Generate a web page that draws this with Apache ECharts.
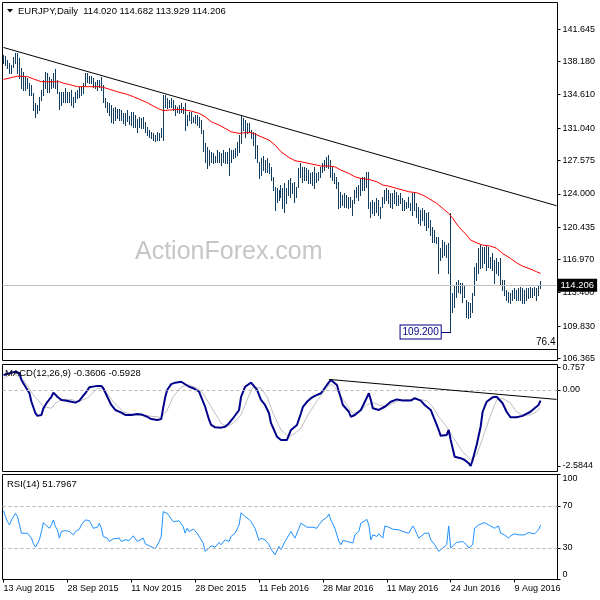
<!DOCTYPE html>
<html><head><meta charset="utf-8">
<script src="https://cdn.jsdelivr.net/npm/echarts@6/dist/echarts.min.js"></script>
<style>html,body{margin:0;padding:0;background:#fff}#c{width:600px;height:600px}</style>
</head><body><div id="c"></div>
<script>
// ---- data ----
const dateTicks = ['13 Aug 2015','28 Sep 2015','11 Nov 2015','28 Dec 2015','11 Feb 2016','28 Mar 2016','11 May 2016','24 Jun 2016','9 Aug 2016'];
const priceTicks = [106.365,109.830,113.400,116.970,120.435,124.000,127.575,131.040,134.610,138.180,141.645];
const macdTicks = [0.757, 0, -2.5844];
const macdTickText = ['0.757','0.00','-2.5844'];
const rsiTicks = [0,30,70,100];

const barHigh = [138.86,138.75,138.33,137.97,137.79,138.68,139.04,139.04,138.50,137.43,
137.08,136.54,136.36,135.83,135.65,134.75,133.68,133.50,134.40,135.11,
136.18,137.08,136.97,136.54,136.25,136.90,137.33,136.18,134.93,134.93,
134.93,135.29,134.93,134.93,135.11,134.40,134.93,135.11,135.47,135.54,
135.83,136.97,136.97,136.61,136.61,136.36,136.00,136.18,136.18,136.54,
135.65,134.22,133.86,133.68,133.50,133.15,133.33,133.04,133.04,132.97,
132.68,132.68,132.97,132.33,132.79,132.79,132.43,131.97,132.25,132.08,
132.25,131.72,131.18,130.83,130.65,130.47,130.29,130.65,130.47,131.00,
134.58,134.58,134.22,134.04,134.22,134.04,133.50,133.33,133.50,133.68,
133.33,133.68,132.43,132.79,132.79,132.25,132.43,132.43,132.25,131.90,
130.82,129.40,129.04,128.68,128.50,128.32,128.04,128.68,128.50,128.32,
128.68,128.50,128.50,128.86,128.68,128.68,128.86,129.57,130.29,132.43,
132.07,131.90,131.61,131.54,130.82,130.64,130.47,129.22,127.43,127.79,
128.04,127.61,127.79,127.25,126.89,125.82,124.75,124.57,124.39,124.93,
124.57,125.11,124.57,125.47,125.64,125.11,125.29,124.75,126.72,127.25,
126.89,126.89,126.72,126.54,126.18,126.36,126.89,126.18,126.36,126.89,
127.25,127.61,127.89,128.14,127.61,126.89,126.18,125.82,125.29,124.22,
123.86,124.04,123.86,123.68,123.68,123.32,124.39,124.75,124.93,125.64,
125.82,125.82,126.36,126.36,123.15,123.32,123.15,123.50,123.32,122.61,
123.68,124.40,124.57,124.40,124.04,124.04,124.40,124.22,123.86,124.04,
123.50,123.32,123.15,123.68,122.97,124.04,124.04,122.97,122.61,122.25,
122.43,122.25,121.90,122.07,121.18,120.47,120.11,119.40,119.40,118.15,
119.04,118.86,118.50,118.68,121.93,113.32,114.22,114.57,114.75,114.40,
114.40,114.22,112.61,112.43,112.25,113.32,116.18,116.54,118.15,118.50,
118.32,118.32,118.50,118.32,117.25,117.61,116.90,117.07,116.72,117.07,
114.75,114.75,113.68,113.50,113.32,113.68,113.86,113.68,113.86,114.04,
113.86,113.68,113.86,113.86,114.04,113.86,114.04,113.86,114.11,114.682];

const barLow = [137.97,137.79,137.43,136.97,136.97,137.61,137.97,136.90,136.36,135.29,
135.11,135.11,135.29,134.58,134.58,132.97,132.18,132.61,132.97,134.04,
134.58,135.29,134.93,134.93,135.29,135.47,135.29,134.75,133.04,133.50,
133.86,133.86,133.86,133.86,133.50,133.33,133.86,134.22,134.40,134.58,
134.75,135.65,136.00,135.83,135.83,135.47,135.29,135.11,135.47,135.11,
133.86,133.33,132.79,132.43,131.72,131.54,131.90,132.08,131.90,131.90,
131.54,131.36,131.83,131.47,131.36,131.18,131.18,130.65,131.18,131.00,
131.00,130.65,130.29,130.11,129.93,129.76,129.65,129.76,129.76,130.11,
129.76,133.33,133.15,133.25,133.33,132.97,132.43,132.79,132.68,132.79,
132.61,130.83,131.36,131.90,131.54,131.72,131.54,131.36,131.18,130.47,
128.61,127.43,126.72,127.07,127.43,127.25,127.43,127.43,127.43,127.07,
127.43,127.25,127.25,126.00,127.43,127.79,127.97,128.14,128.50,129.40,
130.82,130.11,130.47,130.64,129.93,129.22,127.79,127.43,125.64,126.00,
126.54,126.36,126.36,126.18,125.47,124.39,122.25,123.14,123.32,123.68,
122.43,122.07,122.97,123.86,123.68,124.04,123.14,123.68,124.75,125.82,
125.29,125.47,125.47,125.11,125.11,124.93,124.57,125.29,125.47,125.82,
126.36,126.54,126.82,126.72,125.82,125.47,125.11,124.57,122.43,122.61,
122.79,122.61,122.61,122.43,122.61,121.71,122.97,123.68,123.32,123.86,
124.39,124.39,124.75,122.43,121.54,121.90,121.72,122.07,121.72,121.36,
122.61,122.97,123.32,122.97,122.61,122.43,122.97,122.79,122.79,122.97,
122.25,122.25,122.43,122.61,122.25,121.72,122.25,121.54,120.82,120.65,
121.18,120.65,120.11,120.47,119.57,118.86,118.86,118.68,115.47,116.90,
117.25,117.43,117.25,115.47,109.20,111.36,111.90,112.97,113.50,113.32,
112.43,112.97,110.82,110.65,110.82,111.36,113.15,114.75,115.47,116.00,
116.18,116.54,115.82,116.18,116.00,115.82,114.40,115.47,115.29,114.22,
113.68,113.15,112.61,112.43,112.25,112.61,112.79,112.61,112.61,112.61,
112.25,112.25,112.61,112.79,112.97,112.97,113.15,112.61,113.15,113.929];

const maPoints = [[0,136.25],[7,136.6],[12,136.55],[15,136.3],[19,136.0],[28,136.0],[30,135.85],[34,135.65],[37,135.47],[48,135.47],[50,135.4],[53,135.2],[57,134.93],[62,134.65],[65,134.4],[69,134.04],[72,133.76],[75,133.4],[78,133.08],[80,132.9],[83,132.97],[88,133.04],[91,132.97],[94,132.86],[98,132.61],[101,132.25],[104,131.72],[108,131.36],[111,131.0],[114,130.64],[118,130.47],[121,130.54],[124,130.54],[126,130.4],[129,130.11],[133,129.75],[136,129.22],[139,128.5],[143,127.89],[146,127.54],[149,127.43],[153,127.25],[157,127.07],[159,126.97],[163,126.97],[166,126.89],[169,126.54],[173,126.18],[176,125.82],[179,125.64],[183,125.54],[187,125.29],[190,124.93],[193,124.82],[197,124.57],[200,124.4],[203,124.22],[207,124.11],[210,123.86],[213,123.5],[217,122.97],[220,122.43],[223,121.9],[225,121.36],[228,120.47],[232,119.57],[234,119.04],[237,118.75],[240,118.5],[244,118.4],[247,118.15],[250,117.61],[254,117.07],[257,116.61],[260,116.25],[264,115.93],[267,115.65],[269,115.47]];

const trendMain = [[0,139.67],[277,122.72]];
const lastClose = 114.206;
const fibLevel = 107.31;
const brexitLow = 109.2;

const macdMain = [[0,0.51],[4,0.59],[6,0.62],[8,0.57],[9,0.34],[11,0.11],[13,-0.11],[14,-0.40],[16,-0.79],[17,-0.88],[19,-0.85],[20,-0.62],[22,-0.40],[24,-0.23],[25,-0.09],[27,-0.23],[29,-0.34],[31,-0.36],[34,-0.40],[36,-0.43],[38,-0.36],[39,-0.28],[41,-0.11],[43,0.09],[44,0.15],[47,0.14],[49,0.14],[50,0.06],[52,-0.23],[54,-0.51],[56,-0.68],[59,-0.77],[61,-0.85],[64,-0.85],[67,-0.82],[69,-0.83],[72,-0.91],[74,-0.99],[77,-1.02],[79,-0.99],[80,-0.6],[81,-0.25],[82,0.0],[84,0.2],[86,0.25],[89,0.28],[90,0.23],[93,0.11],[95,0.06],[98,-0.06],[99,-0.23],[101,-0.57],[103,-1.02],[104,-1.19],[106,-1.27],[109,-1.28],[111,-1.25],[113,-1.13],[115,-0.96],[118,-0.68],[119,-0.23],[121,0.11],[124,0.25],[125,0.17],[127,0.0],[129,-0.34],[131,-0.51],[133,-0.79],[134,-1.13],[137,-1.59],[139,-1.70],[142,-1.70],[144,-1.36],[147,-1.19],[149,-0.79],[150,-0.57],[152,-0.40],[154,-0.28],[156,-0.20],[159,-0.11],[160,-0.06],[162,0.17],[164,0.34],[165,0.32],[167,0.17],[169,-0.28],[170,-0.51],[173,-0.74],[174,-0.91],[176,-0.85],[179,-0.68],[181,-0.40],[183,-0.11],[184,-0.34],[185,-0.62],[188,-0.68],[189,-0.74],[191,-0.57],[194,-0.40],[197,-0.32],[200,-0.36],[204,-0.36],[206,-0.28],[209,-0.36],[211,-0.51],[214,-0.68],[216,-1.02],[218,-1.36],[219,-1.56],[222,-1.53],[223,-1.36],[224,-1.70],[226,-2.27],[229,-2.32],[231,-2.38],[233,-2.49],[234,-2.5844],[235,-2.38],[237,-1.87],[239,-1.25],[240,-0.74],[242,-0.40],[245,-0.25],[247,-0.23],[248,-0.17],[250,-0.45],[252,-0.74],[254,-0.93],[257,-0.93],[260,-0.88],[264,-0.74],[266,-0.62],[268,-0.51],[269,-0.3606]];

const macdSignal = [[0,0.40],[5,0.57],[10,0.34],[15,-0.17],[20,-0.57],[24,-0.62],[26,-0.45],[29,-0.32],[34,-0.32],[37,-0.40],[42,-0.28],[47,0.06],[50,0.06],[55,-0.40],[60,-0.74],[65,-0.85],[72,-0.88],[79,-0.93],[82,-0.68],[85,-0.23],[89,0.11],[93,0.17],[97,0.06],[100,-0.11],[104,-0.57],[109,-1.13],[112,-1.25],[115,-1.13],[119,-0.85],[122,-0.34],[125,0.11],[129,0.06],[132,-0.23],[135,-0.79],[139,-1.36],[143,-1.59],[146,-1.47],[149,-1.30],[153,-0.79],[158,-0.28],[163,0.17],[165,0.17],[168,-0.11],[172,-0.51],[175,-0.79],[178,-0.74],[182,-0.51],[185,-0.43],[188,-0.51],[192,-0.57],[195,-0.45],[198,-0.36],[203,-0.32],[208,-0.32],[212,-0.36],[215,-0.57],[218,-0.91],[222,-1.25],[225,-1.59],[230,-2.10],[234,-2.38],[237,-2.21],[240,-1.64],[244,-0.85],[247,-0.34],[250,-0.28],[254,-0.45],[257,-0.74],[260,-0.85],[264,-0.85],[267,-0.74],[269,-0.5928]];

const macdTrend = [[163,0.36],[277,-0.32]];

const rsiPoints = [[0,65.5],[1,59.9],[2,55.1],[3,52],[4,56.7],[6,63],[7,59.9],[8,52],[9,44.1],[10,45.7],[12,44],[13,42.5],[14,39.4],[15,34],[16,30.9],[17,32.1],[18,37.8],[19,45.7],[20,54.2],[21,52],[23,48.8],[24,52],[25,56.7],[26,50.4],[27,47.3],[28,39.4],[29,45.7],[31,46.6],[33,45.7],[35,42.5],[36,45.7],[38,47.9],[39,52],[40,50.4],[41,56.7],[43,56.1],[44,54.2],[45,48.8],[47,49.8],[48,53.6],[49,48.8],[50,40.9],[52,39.4],[53,36.2],[55,38.8],[56,37.2],[58,39.4],[59,36.2],[61,37.8],[63,37.2],[64,39.4],[65,41.6],[67,36.2],[68,37.2],[70,39.4],[71,34],[73,32.1],[74,30.9],[76,29.3],[77,30],[78,36.2],[79,41],[80,64.6],[82,63],[83,61.4],[85,55.1],[86,54.2],[88,55.8],[90,50.4],[91,44.1],[92,48.8],[93,45.7],[95,47.9],[97,44.1],[98,42.5],[100,34.7],[101,26.8],[103,30],[104,32.1],[106,30.9],[108,35.3],[109,33.1],[111,37.8],[113,36.2],[114,41],[116,44.1],[118,52],[119,63.6],[121,59.9],[123,57.3],[124,55.1],[126,48.8],[128,37.2],[129,39.4],[131,37.8],[133,33.1],[134,29],[136,23.6],[138,31.5],[139,28.4],[141,36.2],[143,42.5],[144,45.7],[146,39.4],[148,48.8],[149,53.6],[150,52.9],[152,49.8],[153,51],[155,49.8],[157,48.8],[158,52],[160,56.7],[162,59.2],[163,62.4],[164,56.7],[166,48.8],[168,36.2],[169,33.1],[170,37.2],[172,36.2],[173,34.7],[175,34.7],[176,42.5],[178,45.7],[179,53.6],[180,55.1],[182,57.3],[183,52],[184,37.8],[185,42.5],[187,41],[188,43.5],[190,39.4],[191,51],[193,49.8],[195,47.9],[196,48.8],[198,47.3],[200,45.7],[201,46.6],[203,44.1],[205,51],[206,47.9],[208,39.4],[209,41],[211,44.1],[213,44.1],[214,37.8],[216,33.1],[217,34],[218,26.8],[220,30],[222,33.1],[223,51],[224,30],[225,28.4],[227,35.3],[228,37.2],[230,36.2],[232,33.1],[233,30],[235,33.1],[236,48.8],[238,52],[239,53.6],[241,54.2],[243,52],[244,50.4],[246,48.8],[248,51],[249,44.1],[251,42.5],[253,39.4],[254,41.6],[256,43.5],[258,42.5],[259,43.5],[261,42.5],[263,44.7],[264,44.7],[266,43.5],[267,42.5],[268,47.3],[269,51.7967]];

// ---- chart ----
const FONT = '"Liberation Sans", Arial, sans-serif';
const slotCount = 278;
const slots = Array.from({length: slotCount}, (_, i) => String(i));
const barColor = '#123d5e';

const ohlc = barHigh.map((h, i) => [i, h, barLow[i]]);

function xAx(k, showLabels) {
  return {
    type: 'category', gridIndex: k, data: slots, boundaryGap: true,
    axisLine: {show: false},
    axisTick: showLabels ? {show: true, alignWithLabel: true, length: 3, lineStyle: {color: '#000'},
      interval: (idx) => idx % 32 === 0 && idx / 32 < dateTicks.length} : {show: false},
    axisLabel: showLabels ? {show: true, align: 'left', margin: 5, fontSize: 9, fontFamily: FONT, color: '#000',
      interval: (idx) => idx % 32 === 0 && idx / 32 < dateTicks.length,
      formatter: (v) => dateTicks[Number(v) / 32] || ''} : {show: false},
    splitLine: {show: false}
  };
}

const lblBase = {fontSize: 9, fontFamily: FONT, color: '#000', margin: 5};

const option = {
  animation: false,
  backgroundColor: '#fff',
  grid: [
    {left: 2.5, top: 2.5, width: 555, height: 358, show: true, borderColor: '#000', borderWidth: 1, backgroundColor: 'transparent'},
    {left: 2.5, top: 364.5, width: 555, height: 107, show: true, borderColor: '#000', borderWidth: 1},
    {left: 2.5, top: 474.5, width: 555, height: 105, show: true, borderColor: '#000', borderWidth: 1}
  ],
  xAxis: [xAx(0, false), xAx(1, false), xAx(2, true)],
  yAxis: [
    {type: 'value', gridIndex: 0, position: 'right', min: 106.14, max: 144.49,
      axisLine: {show: false}, splitLine: {show: false},
      axisTick: {show: true, length: 3, lineStyle: {color: '#000'}, customValues: priceTicks},
      axisLabel: Object.assign({customValues: priceTicks, formatter: (v) => v.toFixed(3)}, lblBase)},
    {type: 'value', gridIndex: 1, position: 'right', min: -2.772, max: 0.867,
      axisLine: {show: false}, splitLine: {show: false},
      axisTick: {show: true, length: 3, lineStyle: {color: '#000'}, customValues: macdTicks},
      axisLabel: Object.assign({customValues: macdTicks,
        formatter: (v) => { const k = macdTicks.findIndex(t => Math.abs(t - v) < 1e-6); return k >= 0 ? macdTickText[k] : ''; }}, lblBase)},
    {type: 'value', gridIndex: 2, position: 'right', min: 0, max: 100,
      axisLine: {show: false}, splitLine: {show: false},
      axisTick: {show: true, length: 3, lineStyle: {color: '#000'}, customValues: rsiTicks},
      axisLabel: Object.assign({customValues: rsiTicks, verticalAlignMaxLabel: 'top', verticalAlignMinLabel: 'bottom'}, lblBase)}
  ],
  graphic: [
    {type: 'text', left: 135, top: 240, z: 0, silent: true,
      style: {text: 'ActionForex.com', font: '25px ' + FONT, fill: '#c6c6c6'}},
    {type: 'polygon', z: 50, shape: {points: [[7, 9], [13, 9], [10, 12.5]]}, style: {fill: '#000'}},
    {type: 'text', left: 18, top: 6, z: 50,
      style: {text: 'EURJPY,Daily  114.020 114.682 113.929 114.206', font: '9.5px ' + FONT, fill: '#000'}},
    {type: 'text', left: 5, top: 368, z: 50,
      style: {text: 'MACD(12,26,9) -0.3606 -0.5928', font: '9.5px ' + FONT, fill: '#000'}},
    {type: 'text', left: 7, top: 479, z: 50,
      style: {text: 'RSI(14) 51.7967', font: '9.5px ' + FONT, fill: '#000'}}
  ],
  series: [
    {
      type: 'custom', name: 'bars', xAxisIndex: 0, yAxisIndex: 0, data: ohlc, clip: true, z: 3,
      encode: {x: 0, y: [1, 2]},
      renderItem: (params, api) => {
        const i = api.value(0);
        const p1 = api.coord([i, api.value(1)]);
        const p2 = api.coord([i, api.value(2)]);
        const x = Math.floor(p1[0]) + 0.5;
        return {type: 'line', shape: {x1: x, y1: Math.round(p1[1]), x2: x, y2: Math.round(p2[1]) + 1},
          style: {stroke: barColor, lineWidth: 1}};
      }
    },
    {
      type: 'line', name: 'MA', xAxisIndex: 0, yAxisIndex: 0, data: maPoints, showSymbol: false, symbol: 'none',
      lineStyle: {color: '#ff0000', width: 1}, z: 4, silent: true,
      markLine: {
        silent: true, symbol: ['none', 'none'], animation: false,
        data: [
          {yAxis: lastClose, lineStyle: {color: '#c0c0c0', width: 1, type: 'solid'},
            label: {show: true, position: 'end', distance: 0, formatter: '114.206', color: '#fff', backgroundColor: '#000',
              padding: [2, 3, 1, 3], fontSize: 9.5, fontFamily: FONT}},
          {yAxis: fibLevel, lineStyle: {color: '#000', width: 1, type: 'solid'},
            label: {show: true, position: 'insideEndTop', distance: 2, formatter: '76.4', color: '#000', fontSize: 10, fontFamily: FONT}},
          [{coord: ['219', brexitLow]}, {coord: ['224', brexitLow],
            lineStyle: {color: '#000080', width: 1, type: 'solid'},
            label: {show: true, position: 'start', distance: 0, formatter: '109.200', color: '#000080', backgroundColor: '#fff',
              borderColor: '#000080', borderWidth: 1, padding: [2, 2, 1, 2], fontSize: 10, fontFamily: FONT}}]
        ]
      }
    },
    {
      type: 'line', name: 'trend', xAxisIndex: 0, yAxisIndex: 0, data: trendMain, symbol: 'none',
      lineStyle: {color: '#000', width: 1}, z: 5, silent: true
    },
    {
      type: 'line', name: 'signal', xAxisIndex: 1, yAxisIndex: 1, data: macdSignal, symbol: 'none',
      lineStyle: {color: '#c0c0c0', width: 1}, z: 3, silent: true,
      markLine: {silent: true, symbol: ['none', 'none'], label: {show: false},
        data: [{yAxis: 0, lineStyle: {color: '#b4b4b4', width: 1, type: [3, 3]}}]}
    },
    {
      type: 'line', name: 'macd', xAxisIndex: 1, yAxisIndex: 1, data: macdMain, symbol: 'none',
      lineStyle: {color: '#00008b', width: 2}, z: 4, silent: true
    },
    {
      type: 'line', name: 'macdTrend', xAxisIndex: 1, yAxisIndex: 1, data: macdTrend, symbol: 'none',
      lineStyle: {color: '#000', width: 1}, z: 5, silent: true
    },
    {
      type: 'line', name: 'rsi', xAxisIndex: 2, yAxisIndex: 2, data: rsiPoints, symbol: 'none',
      lineStyle: {color: '#1e90ff', width: 1}, z: 4, silent: true,
      markLine: {silent: true, symbol: ['none', 'none'], label: {show: false},
        data: [{yAxis: 70, lineStyle: {color: '#b4b4b4', width: 1, type: [3, 3]}},
               {yAxis: 30, lineStyle: {color: '#b4b4b4', width: 1, type: [3, 3]}}]}
    }
  ]
};

const chart = echarts.init(document.getElementById('c'), null, {renderer: 'canvas'});
chart.setOption(option);
</script>
</body></html>
